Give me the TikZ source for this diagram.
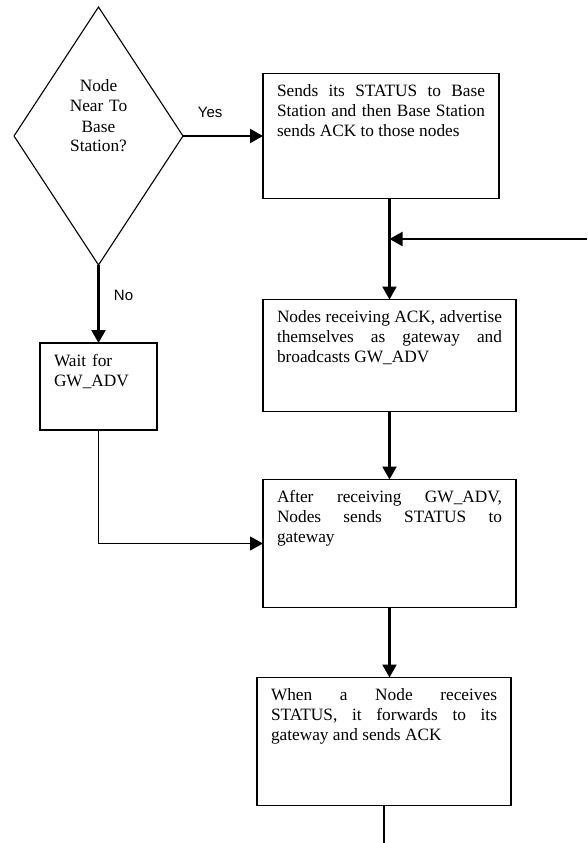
\documentclass[tikz,border=0pt]{standalone}
\usepackage{fontspec}
\setmainfont{Liberation Serif}
\newfontfamily\labelfont{Liberation Sans}
\usetikzlibrary{shapes.geometric, positioning, arrows.meta}
\tikzset{
  flow/.style={-{Triangle[length=13pt,width=14pt]}, line width=2.2pt}, % arrows between the steps
  stepbox/.style={draw, line width=1.6pt, anchor=north west, align=justify, text width=#1,
    inner xsep=14pt, inner ysep=11pt, text height=12pt, outer sep=0pt}, % text sits at the top
  decision/.style={draw, diamond, aspect=0.65, line width=1.1pt, minimum width=169pt,
    minimum height=258pt, inner sep=0pt, outer sep=0pt, text width=60pt, align=center,
    text height=12pt, text depth=100pt},
  answer/.style={font=\labelfont\fontsize{15}{17}\selectfont},
}

\begin{document}
\begin{tikzpicture}[font=\fontsize{17.3}{20}\selectfont]
  \useasboundingbox (0,0) rectangle (587pt,-843pt);

  \node[decision] (near) at (98.5pt,-136pt) {Node\\ Near To\\ Base\\ Station?};
  \node[stepbox=208pt, text depth=91pt, right=80pt of near] (sends)
    {Sends its STATUS to Base\linebreak Station and then Base Station\linebreak sends ACK to those nodes};
  \node[stepbox=225pt, text depth=78pt, below=101pt of sends.south west, anchor=north west] (advert)
    {Nodes receiving ACK, advertise\linebreak themselves as gateway and\linebreak broadcasts GW\_ADV};
  \node[stepbox=225pt, text depth=94pt, below=68pt of advert.south west, anchor=north west] (report)
    {After receiving GW\_ADV,\linebreak Nodes sends STATUS to\linebreak gateway};
  \node[stepbox=226pt, text depth=94pt, below=70pt of report.south west, anchor=north west, xshift=-6pt] (forward)
    {When a Node receives\linebreak STATUS, it forwards to its\linebreak gateway and sends ACK};
  \node[stepbox=89pt, align=left, text depth=53pt, below=78pt of near.south, anchor=north] (wait)
    {Wait for\\ GW\_ADV};

  \coordinate (feedback) at (587pt,-239pt);
  \coordinate (exit) at ([yshift=-37pt]forward.south);

  \draw[flow] (near.east) -- node[answer, pos=0.34, above=14pt]{Yes} (sends.west);
  \draw[flow] (near.south) -- node[answer, pos=0.39, right=11pt]{No} (wait.north);
  \draw[flow] (sends.south -| advert.north) -- (advert.north);
  \draw[flow] (feedback) -- (feedback -| advert.north);
  \draw[flow] (advert.south) -- (report.north);
  \draw[flow] (report.south) -- (report.south |- forward.north);
  \draw[flow, line width=1.2pt] (wait.south) |- (report.west);
  \draw[line width=1.6pt] (forward.south) -- (exit);
\end{tikzpicture}
\end{document}
